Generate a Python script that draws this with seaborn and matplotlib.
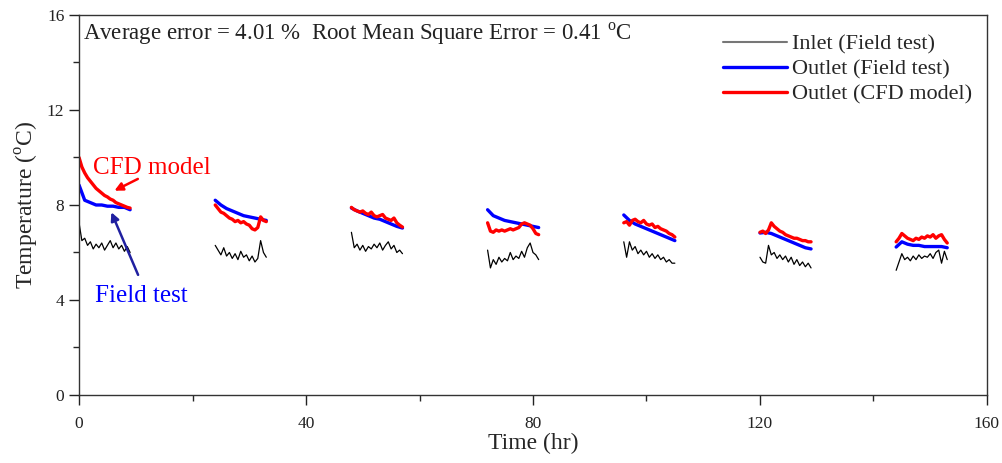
import numpy as np
import pandas as pd
import matplotlib
matplotlib.use('Agg')
import matplotlib.pyplot as plt
import seaborn as sns
from matplotlib.lines import Line2D
from matplotlib.ticker import MultipleLocator

sns.set_style("ticks")
plt.rcParams['font.family'] = ['Liberation Serif', 'DejaVu Serif']
plt.rcParams['mathtext.fontset'] = 'custom'
plt.rcParams['mathtext.rm'] = 'Liberation Serif'

# start hour of each daily test period
day_start = [0, 24, 48, 72, 96, 120, 144]
fine_offsets = [0, 0.5, 1, 1.5, 2, 2.5, 3, 3.5, 4, 4.5, 5, 5.5, 6, 6.5, 7, 7.5, 8, 8.5, 9]
coarse_offsets = [0, 1, 2, 3, 4, 5, 6, 7, 8, 9]

inlet_field = [
    [7.25, 6.5, 6.6, 6.3, 6.45, 6.15, 6.35, 6.2, 6.4, 6.1, 6.3, 6.5, 6.2, 6.4, 6.15, 6.3, 6.05, 6.25, 6.0],
    [6.3, 6.1, 5.9, 6.2, 5.85, 6.0, 5.75, 5.95, 5.7, 6.05, 5.8, 5.9, 5.65, 5.85, 5.6, 5.75, 6.5, 6.0, 5.8],
    [6.85, 6.2, 6.35, 6.1, 6.3, 6.05, 6.25, 6.15, 6.35, 6.2, 6.4, 6.1, 6.3, 6.45, 6.15, 6.3, 6.0, 6.1, 5.95],
    [6.1, 5.35, 5.7, 5.5, 5.8, 5.6, 5.75, 5.65, 6.0, 5.7, 5.85, 5.75, 6.05, 5.8, 6.2, 6.4, 6.0, 5.9, 5.7],
    [6.45, 5.8, 6.45, 6.1, 6.25, 5.95, 6.1, 5.9, 6.05, 5.8, 5.95, 5.75, 5.9, 5.7, 5.8, 5.6, 5.7, 5.55, 5.55],
    [5.8, 5.6, 5.55, 6.3, 5.9, 6.0, 5.75, 5.9, 5.7, 5.85, 5.6, 5.8, 5.5, 5.7, 5.45, 5.6, 5.4, 5.55, 5.35],
    [5.25, 5.6, 5.95, 5.7, 5.8, 5.65, 5.85, 5.7, 5.9, 5.75, 5.85, 5.8, 5.95, 5.75, 6.0, 6.1, 5.55, 6.05, 5.7],
]

outlet_field = [
    [8.84, 8.2, 8.1, 8.0, 8.0, 7.95, 7.95, 7.9, 7.9, 7.8],
    [8.2, 8.0, 7.85, 7.75, 7.65, 7.55, 7.5, 7.45, 7.4, 7.35],
    [7.87, 7.75, 7.65, 7.55, 7.45, 7.4, 7.3, 7.2, 7.1, 7.03],
    [7.8, 7.55, 7.45, 7.35, 7.3, 7.25, 7.2, 7.15, 7.1, 7.05],
    [7.58, 7.35, 7.2, 7.1, 7.0, 6.9, 6.8, 6.7, 6.6, 6.5],
    [6.82, 6.85, 6.8, 6.7, 6.6, 6.5, 6.4, 6.3, 6.2, 6.15],
    [6.23, 6.45, 6.35, 6.3, 6.3, 6.25, 6.25, 6.25, 6.25, 6.2],
]

outlet_cfd = [
    [10.0, 9.6, 9.35, 9.15, 9.0, 8.85, 8.7, 8.6, 8.5, 8.4, 8.34, 8.25, 8.2, 8.1, 8.05, 8.0, 7.95, 7.9, 7.87],
    [8.0, 7.85, 7.7, 7.65, 7.55, 7.45, 7.4, 7.3, 7.35, 7.25, 7.3, 7.2, 7.15, 7.0, 6.95, 7.05, 7.5, 7.35, 7.3],
    [7.9, 7.8, 7.75, 7.7, 7.75, 7.65, 7.6, 7.7, 7.55, 7.5, 7.55, 7.6, 7.45, 7.4, 7.35, 7.45, 7.25, 7.15, 7.07],
    [7.25, 6.9, 6.85, 6.95, 6.9, 6.95, 6.9, 6.95, 7.0, 6.95, 7.0, 7.05, 7.2, 7.25, 7.2, 7.15, 7.0, 6.8, 6.75],
    [7.25, 7.3, 7.15, 7.35, 7.4, 7.3, 7.25, 7.35, 7.2, 7.15, 7.2, 7.05, 7.1, 7.0, 6.95, 6.9, 6.8, 6.75, 6.65],
    [6.85, 6.9, 6.8, 6.95, 7.25, 7.1, 7.0, 6.9, 6.85, 6.75, 6.7, 6.65, 6.6, 6.6, 6.55, 6.5, 6.5, 6.45, 6.45],
    [6.45, 6.6, 6.8, 6.7, 6.6, 6.55, 6.5, 6.6, 6.55, 6.65, 6.6, 6.7, 6.65, 6.75, 6.6, 6.7, 6.75, 6.55, 6.4],
]


def to_frame(segments, offsets):
    rows = []
    for d, (start, vals) in enumerate(zip(day_start, segments)):
        for off, v in zip(offsets, vals):
            rows.append({'time': start + off, 'temp': v, 'day': d})
    return pd.DataFrame(rows)


df_inlet = to_frame(inlet_field, fine_offsets)
df_field = to_frame(outlet_field, coarse_offsets)
df_cfd = to_frame(outlet_cfd, fine_offsets)

fig = plt.figure(figsize=(10.03, 4.63), dpi=100)
ax = fig.add_axes([0.0788, 0.1469, 0.9052, 0.8207])

sns.lineplot(data=df_inlet, x='time', y='temp', units='day', estimator=None,
             color='black', linewidth=0.9, ax=ax, legend=False)
sns.lineplot(data=df_field, x='time', y='temp', units='day', estimator=None,
             color='#0000ff', linewidth=2.4, ax=ax, legend=False)
sns.lineplot(data=df_cfd, x='time', y='temp', units='day', estimator=None,
             color='#ff0000', linewidth=2.4, ax=ax, legend=False)

ax.set_xlim(0, 160)
ax.set_ylim(0, 16)
ax.xaxis.set_major_locator(MultipleLocator(40))
ax.xaxis.set_minor_locator(MultipleLocator(20))
ax.yaxis.set_major_locator(MultipleLocator(4))
ax.yaxis.set_minor_locator(MultipleLocator(2))
ax.tick_params(which='major', direction='out', length=7, width=1, labelsize=12.5, colors='#222222')
ax.tick_params(which='minor', direction='out', length=4, width=1)
ax.tick_params(axis='x', pad=8)
for s in ax.spines.values():
    s.set_color('#333333')
    s.set_linewidth(1.0)

ax.set_xlabel('Time (hr)', fontsize=17, labelpad=1)
ax.set_ylabel('Temperature ($^{\\mathrm{o}}$C)', fontsize=17, labelpad=4)

ax.text(0.7, 15.2, 'Average error = 4.01 %  Root Mean Square Error = 0.41 $^{\\mathrm{o}}$C',
        fontsize=16.5, va='center', ha='left', color='#222222')

# annotations
ax.annotate('', xy=(5.8, 8.55), xytext=(10.8, 9.15),
            arrowprops=dict(arrowstyle='-|>', color='#ff0000', lw=1.8, mutation_scale=12))
ax.text(2.5, 9.55, 'CFD model', color='#ff0000', fontsize=18, va='center', ha='left')
ax.annotate('', xy=(5.5, 7.8), xytext=(10.6, 4.95),
            arrowprops=dict(arrowstyle='-|>', color='#2020a0', lw=1.8, mutation_scale=12))
ax.text(2.8, 4.15, 'Field test', color='#0000ff', fontsize=18, va='center', ha='left')

handles = [
    Line2D([], [], color='#777777', lw=1.5),
    Line2D([], [], color='#0000ff', lw=2.4),
    Line2D([], [], color='#ff0000', lw=2.4),
]
labels = ['Inlet (Field test)', 'Outlet (Field test)', 'Outlet (CFD model)']
ax.legend(handles, labels, loc='upper right', bbox_to_anchor=(0.998, 0.985), frameon=False,
          fontsize=16, handlelength=2.9, handletextpad=0.2, labelspacing=0.2, borderaxespad=0.2)

fig.savefig('out.png', dpi=100)
